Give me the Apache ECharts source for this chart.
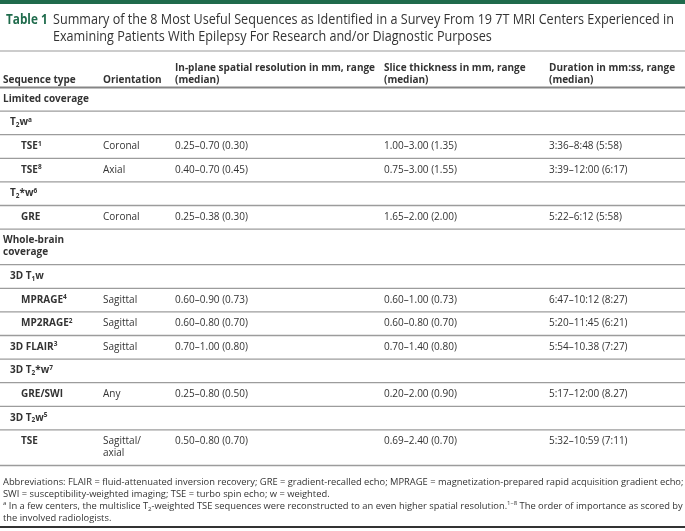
<!DOCTYPE html>
<html><head><meta charset="utf-8">
<style>html,body{margin:0;padding:0;background:#fff}#c{width:685px;height:531px}</style>
<script src="https://cdn.jsdelivr.net/npm/echarts@6/dist/echarts.min.js"></script>
</head><body><div id="c"></div>
<script>
// ---- data ----
const titleLabel = 'Table 1';
const titleLines = [
  'Summary of the 8 Most Useful Sequences as Identified in a Survey From 19 7T MRI Centers Experienced in',
  'Examining Patients With Epilepsy For Research and/or Diagnostic Purposes'
];
const headers = [
  'Sequence type',
  'Orientation',
  'In-plane spatial resolution in mm, range\n(median)',
  'Slice thickness in mm, range\n(median)',
  'Duration in mm:ss, range\n(median)'
];
const seqTypes = [
  'Limited coverage',
  'T{sub|2}w{sup|a}',
  'TSE{sup|1}',
  'TSE{sup|8}',
  'T{sub|2}*w{sup|6}',
  'GRE',
  'Whole-brain\ncoverage',
  '3D T{sub|1}w',
  'MPRAGE{sup|4}',
  'MP2RAGE{sup|2}',
  '3D FLAIR{sup|3}',
  '3D T{sub|2}*w{sup|7}',
  'GRE/SWI',
  '3D T{sub|2}w{sup|5}',
  'TSE'
];
const seqLevels = [0, 1, 2, 2, 1, 2, 0, 1, 2, 2, 1, 1, 2, 1, 2];
const orientations = ['', '', 'Coronal', 'Axial', '', 'Coronal', '', '', 'Sagittal', 'Sagittal', 'Sagittal', '', 'Any', '', 'Sagittal/\naxial'];
const inPlane = ['', '', '0.25–0.70 (0.30)', '0.40–0.70 (0.45)', '', '0.25–0.38 (0.30)', '', '', '0.60–0.90 (0.73)', '0.60–0.80 (0.70)', '0.70–1.00 (0.80)', '', '0.25–0.80 (0.50)', '', '0.50–0.80 (0.70)'];
const sliceThickness = ['', '', '1.00–3.00 (1.35)', '0.75–3.00 (1.55)', '', '1.65–2.00 (2.00)', '', '', '0.60–1.00 (0.73)', '0.60–0.80 (0.70)', '0.70–1.40 (0.80)', '', '0.20–2.00 (0.90)', '', '0.69–2.40 (0.70)'];
const durations = ['', '', '3:36–8:48 (5:58)', '3:39–12:00 (6:17)', '', '5:22–6:12 (5:58)', '', '', '6:47–10:12 (8:27)', '5:20–11:45 (6:21)', '5:54–10.38 (7:27)', '', '5:17–12:00 (8.27)', '', '5:32–10:59 (7:11)'];
const footnotes = [
  'Abbreviations: FLAIR = fluid-attenuated inversion recovery; GRE = gradient-recalled echo; MPRAGE = magnetization-prepared rapid acquisition gradient echo;',
  'SWI = susceptibility-weighted imaging; TSE = turbo spin echo; w = weighted.',
  '{sup|a} In a few centers, the multislice T{sub|2}-weighted TSE sequences were reconstructed to an even higher spatial resolution.{sup|1–8} The order of importance as scored by',
  'the involved radiologists.'
];

// ---- layout / style ----
const FONT = '"Open Sans", sans-serif';
const GREEN = '#1f6b4c';
const TEXT = '#333333';
const W = 685;
const colX = [3, 103, 175, 384, 549];
const indentX = [3, 10, 21];
const FS = 10, LH = 12;

function richStyles(bold, fs) {
  const w = bold ? 'bold' : 'normal';
  const s = Math.round(fs * 0.65 * 10) / 10;
  return {
    sup: {fontSize: s, fontWeight: w, fontFamily: FONT, fill: TEXT, lineHeight: 6, verticalAlign: 'top'},
    sub: {fontSize: s, fontWeight: w, fontFamily: FONT, fill: TEXT, lineHeight: 6, verticalAlign: 'bottom'}
  };
}
function txt(x, y, s, opt) {
  opt = opt || {};
  const fs = opt.fs || FS;
  return {
    type: 'text', x: x, y: y, scaleX: opt.scaleX || 1, silent: true,
    style: {
      text: s, fill: opt.fill || TEXT, fontSize: fs, fontFamily: FONT,
      fontWeight: opt.bold ? 'bold' : 'normal', lineHeight: opt.lh || LH,
      align: 'left', verticalAlign: opt.va || 'top', rich: richStyles(opt.bold, fs)
    }
  };
}
function hline(y, w, color) {
  return {type: 'line', silent: true, shape: {x1: 0, y1: y, x2: W, y2: y}, style: {stroke: color, lineWidth: w}};
}

const els = [];
els.push({type: 'rect', silent: true, shape: {x: 0, y: 0, width: W, height: 4}, style: {fill: GREEN}});
// title
const TSX = 0.9;
els.push(txt(6, 20, titleLabel, {bold: true, fs: 14, fill: GREEN, scaleX: 0.84, va: 'middle', lh: 17}));
titleLines.forEach((t, i) => els.push(txt(53, 20 + i * 17, t, {fs: 14, scaleX: TSX, va: 'middle', lh: 17})));
els.push(hline(51, 1.2, '#9a9a9a'));
// header
headers.forEach((h, i) => {
  const n = h.split('\n').length;
  els.push(txt(colX[i], 86 - n * LH, h, {bold: true}));
});
els.push(hline(87.5, 2, '#858585'));
// body
let rowTop = 88;
const cols = [orientations, inPlane, sliceThickness, durations];
seqTypes.forEach((s, r) => {
  const lines = Math.max(s.split('\n').length, orientations[r].split('\n').length);
  const h = 11.6 + 12 * lines;
  const ty = rowTop + 5;
  els.push(txt(indentX[seqLevels[r]], ty, s, {bold: true}));
  cols.forEach((c, j) => { if (c[r]) els.push(txt(colX[j + 1], ty, c[r])); });
  rowTop += h;
  els.push(hline(rowTop - 0.5, 1.3, '#9c9c9c'));
});
// footnotes
footnotes.forEach((f, i) => els.push(txt(3, 476 + i * 12, f, {fs: 9.35})));
els.push(hline(527, 2, '#333333'));

const chart = echarts.init(document.getElementById('c'), null, {renderer: 'canvas'});
chart.setOption({
  backgroundColor: '#ffffff',
  animation: false,
  graphic: {elements: els}
});
</script></body></html>
